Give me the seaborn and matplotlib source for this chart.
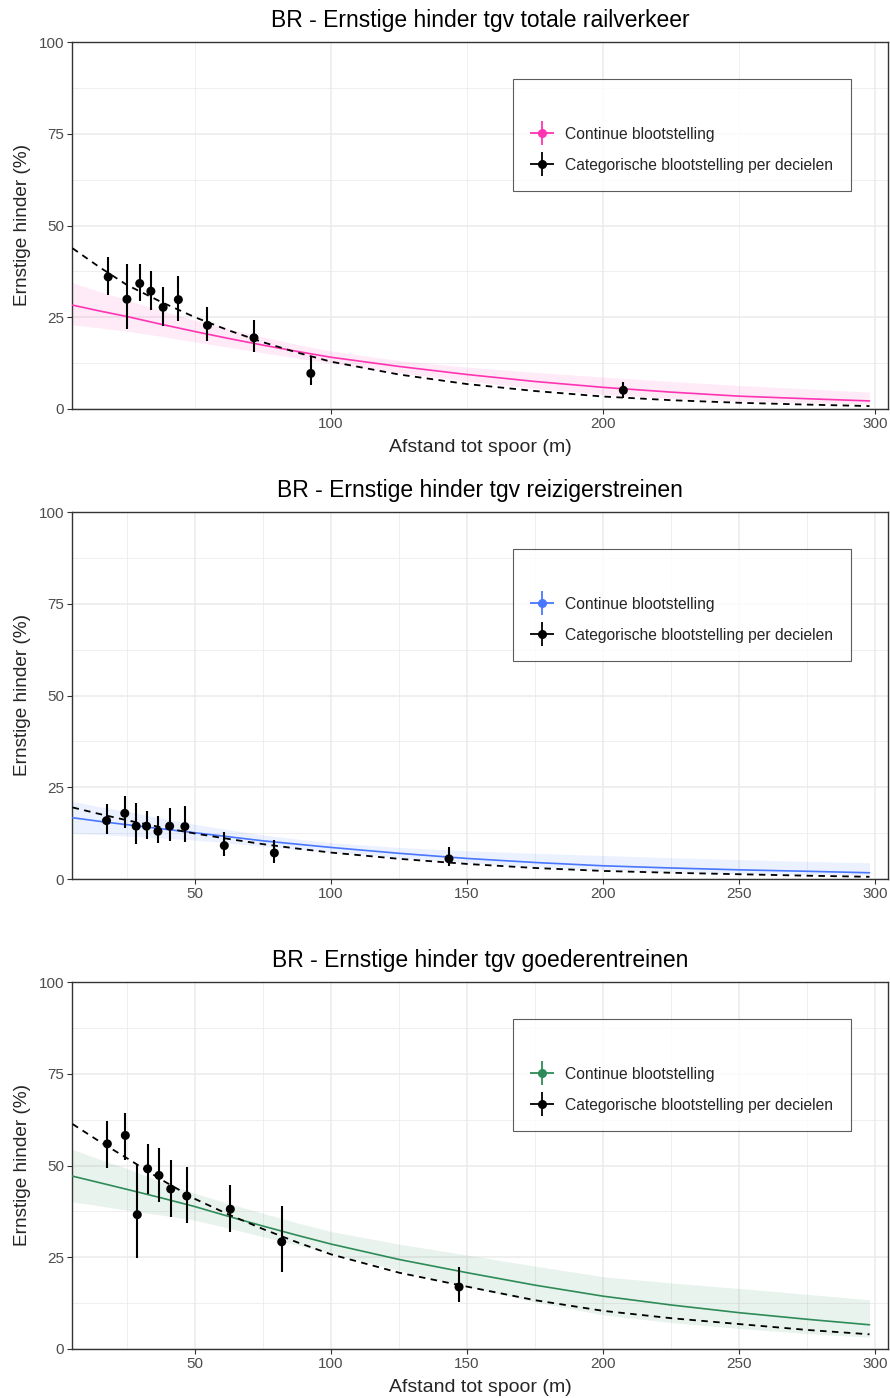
import numpy as np
import pandas as pd
import matplotlib
matplotlib.use("Agg")
import matplotlib.pyplot as plt
from matplotlib.lines import Line2D
from matplotlib.ticker import FixedLocator
import seaborn as sns

curve_x = [5, 15, 25, 37.5, 50, 62.5, 75, 87.5, 100, 125, 150, 175, 200, 225, 250, 275, 298]

# --- totale railverkeer ---
tot_cont = [28.3, 26.7, 25.2, 23.1, 21.1, 19.2, 17.4, 15.7, 14.1, 11.6, 9.4, 7.5, 5.9, 4.6, 3.5, 2.8, 2.2]
tot_cont_lo = [22.9, 22.1, 21.2, 19.8, 18.3, 16.8, 15.3, 13.9, 12.5, 9.9, 7.6, 5.6, 4.0, 2.9, 2.2, 1.7, 1.3]
tot_cont_hi = [34.4, 32.0, 29.7, 26.8, 24.2, 21.8, 19.6, 17.6, 15.8, 13.2, 11.4, 10.0, 8.7, 7.5, 6.4, 5.5, 4.6]
tot_cat_fit = [43.8, 38.6, 33.8, 29.2, 25.0, 21.4, 18.2, 15.4, 12.9, 9.4, 6.8, 4.9, 3.4, 2.4, 1.7, 1.2, 0.8]
tot_x = [18.1, 25.0, 29.7, 33.8, 38.3, 43.9, 54.6, 71.7, 92.6, 207.5]
tot_y = [36.0, 29.9, 34.2, 32.1, 27.7, 29.8, 22.8, 19.4, 9.7, 5.1]
tot_lo = [31.1, 21.8, 29.3, 27.0, 22.7, 24.1, 18.6, 15.5, 6.5, 3.1]
tot_hi = [41.3, 39.4, 39.6, 37.7, 33.2, 36.2, 27.7, 24.2, 14.3, 7.4]

# --- reizigerstreinen ---
rei_cont = [16.7, 15.7, 14.8, 13.7, 12.6, 11.5, 10.4, 9.5, 8.6, 7.0, 5.6, 4.5, 3.6, 3.0, 2.5, 2.1, 1.7]
rei_cont_lo = [12.4, 12.1, 11.7, 11.2, 10.6, 9.8, 8.9, 8.1, 7.3, 5.8, 4.4, 3.3, 2.5, 1.9, 1.5, 1.2, 1.0]
rei_cont_hi = [21.1, 19.7, 18.4, 16.6, 14.9, 13.4, 12.0, 10.9, 9.9, 8.6, 7.7, 7.0, 6.4, 5.8, 5.3, 4.8, 4.4]
rei_cat_fit = [19.5, 17.7, 16.0, 14.1, 12.4, 10.9, 9.5, 8.3, 7.2, 5.5, 4.1, 3.0, 2.2, 1.7, 1.3, 0.9, 0.6]
rei_x = [17.5, 24.2, 28.4, 32.2, 36.4, 40.7, 46.3, 60.8, 79.2, 143.4]
rei_y = [15.9, 17.9, 14.4, 14.4, 13.0, 14.4, 14.3, 9.1, 7.1, 5.5]
rei_lo = [12.3, 14.0, 9.5, 10.8, 9.7, 10.4, 10.1, 6.3, 4.4, 3.5]
rei_hi = [20.4, 22.6, 20.8, 18.5, 17.2, 19.4, 19.9, 12.9, 10.5, 8.7]

# --- goederentreinen ---
goe_cont = [47.1, 45.3, 43.5, 41.2, 38.8, 36.1, 33.5, 31.0, 28.6, 24.4, 20.8, 17.4, 14.4, 12.0, 9.9, 8.1, 6.6]
goe_cont_lo = [40.1, 39.0, 37.8, 36.5, 35.1, 32.9, 30.6, 28.3, 26.1, 21.4, 17.0, 12.8, 9.3, 7.2, 5.6, 4.2, 3.2]
goe_cont_hi = [54.4, 51.7, 49.2, 45.6, 42.4, 39.6, 37.0, 34.4, 32.0, 28.6, 25.6, 22.6, 19.7, 18.0, 16.5, 14.9, 13.4]
goe_cat_fit = [61.3, 56.5, 52.0, 46.2, 40.9, 36.6, 32.7, 29.1, 25.8, 20.8, 17.0, 13.3, 10.4, 8.4, 6.8, 5.2, 4.0]
goe_x = [17.8, 24.4, 28.8, 32.6, 36.8, 41.1, 47.0, 63.0, 81.9, 147.1]
goe_y = [55.9, 58.2, 36.6, 49.1, 47.3, 43.6, 41.7, 38.1, 29.2, 16.9]
goe_lo = [49.4, 51.5, 24.9, 42.2, 40.1, 36.1, 34.2, 31.9, 21.1, 12.7]
goe_hi = [62.2, 64.4, 50.1, 55.9, 54.7, 51.5, 49.5, 44.6, 39.0, 22.3]

titles = ["BR - Ernstige hinder tgv totale railverkeer",
          "BR - Ernstige hinder tgv reizigerstreinen",
          "BR - Ernstige hinder tgv goederentreinen"]
colors = ["#FF34B3", "#4876FF", "#2E8B57"]
legend_labels = ["Continue blootstelling", "Categorische blootstelling per decielen"]

sns.set_theme(style="white")
plt.rcParams['font.family'] = ['Liberation Sans', 'DejaVu Sans']

panels = [
    (tot_cont, tot_cont_lo, tot_cont_hi, tot_cat_fit, tot_x, tot_y, tot_lo, tot_hi),
    (rei_cont, rei_cont_lo, rei_cont_hi, rei_cat_fit, rei_x, rei_y, rei_lo, rei_hi),
    (goe_cont, goe_cont_lo, goe_cont_hi, goe_cat_fit, goe_x, goe_y, goe_lo, goe_hi),
]

fig = plt.figure(figsize=(8.9, 13.98), dpi=100)
W, H = 890, 1398
tops = [42, 512, 982]
for i, (cont, lo, hi, catfit, px, py, plo, phi) in enumerate(panels):
    top = tops[i]
    ax = fig.add_axes([72 / W, 1 - (top + 367) / H, 816 / W, 367 / H])
    col = colors[i]

    curves = pd.DataFrame({"x": curve_x, "cont": cont, "lo": lo, "hi": hi, "cat": catfit})
    pts = pd.DataFrame({"x": px, "y": py, "lo": plo, "hi": phi})

    ax.fill_between(curves["x"], curves["lo"], curves["hi"], color=col, alpha=0.1, lw=0, zorder=2)
    sns.lineplot(data=curves, x="x", y="cont", color=col, lw=1.2, ax=ax, zorder=3)
    sns.lineplot(data=curves, x="x", y="cat", color="black", lw=1.3, ax=ax, zorder=3,
                 linestyle=(0, (3.6, 3.0)))
    ax.vlines(pts["x"], pts["lo"], pts["hi"], color="black", lw=1.5, zorder=4)
    sns.scatterplot(data=pts, x="x", y="y", color="black", s=42, edgecolor="none", ax=ax, zorder=5)

    ax.set_xlim(4.8, 304.8)
    ax.set_ylim(0, 100)
    ax.yaxis.set_major_locator(FixedLocator([0, 25, 50, 75, 100]))
    ax.yaxis.set_minor_locator(FixedLocator([12.5, 37.5, 62.5, 87.5]))
    if i == 0:
        ax.xaxis.set_major_locator(FixedLocator([100, 200, 300]))
        ax.xaxis.set_minor_locator(FixedLocator([50, 150, 250]))
    else:
        ax.xaxis.set_major_locator(FixedLocator([50, 100, 150, 200, 250, 300]))
        ax.xaxis.set_minor_locator(FixedLocator([25, 75, 125, 175, 225, 275]))
    ax.grid(which="major", color="#EBEBEB", lw=1.1, zorder=0)
    ax.grid(which="minor", color="#EBEBEB", lw=0.55, zorder=0)
    ax.set_axisbelow(True)
    for sp in ax.spines.values():
        sp.set_color("#333333")
        sp.set_linewidth(1.0)
    ax.tick_params(which="major", length=3.5, width=0.8, color="#333333",
                   labelsize=11, labelcolor="#4D4D4D", pad=2, bottom=True, left=True)
    ax.tick_params(which="minor", length=0)

    ax.set_title(titles[i], fontsize=16.5, color="black", pad=11)
    ax.set_ylabel("Ernstige hinder (%)", fontsize=13.7, labelpad=6)
    if i == 1:
        ax.set_xlabel("")
    else:
        ax.set_xlabel("Afstand tot spoor (m)", fontsize=14, labelpad=6)

    handles = [
        (Line2D([], [], marker="+", markersize=17, mew=1.3, ls="none", color=col),
         Line2D([], [], marker="o", markersize=5.5, ls="none", color=col)),
        (Line2D([], [], marker="+", markersize=17, mew=1.3, ls="none", color="black"),
         Line2D([], [], marker="o", markersize=5.5, ls="none", color="black")),
    ]
    leg = ax.legend(handles, legend_labels,
                    title=" ", loc="upper left", bbox_to_anchor=((513 - 72) / 816, (409 - 79) / 367),
                    borderaxespad=0, frameon=True, fancybox=False, fontsize=11.25,
                    title_fontsize=10.5, handlelength=1.5, handletextpad=0.7,
                    labelspacing=1.03, borderpad=1.13)
    leg.get_frame().set_edgecolor("#333333")
    leg.get_frame().set_linewidth(0.8)

fig.savefig("out.png", dpi=100)
